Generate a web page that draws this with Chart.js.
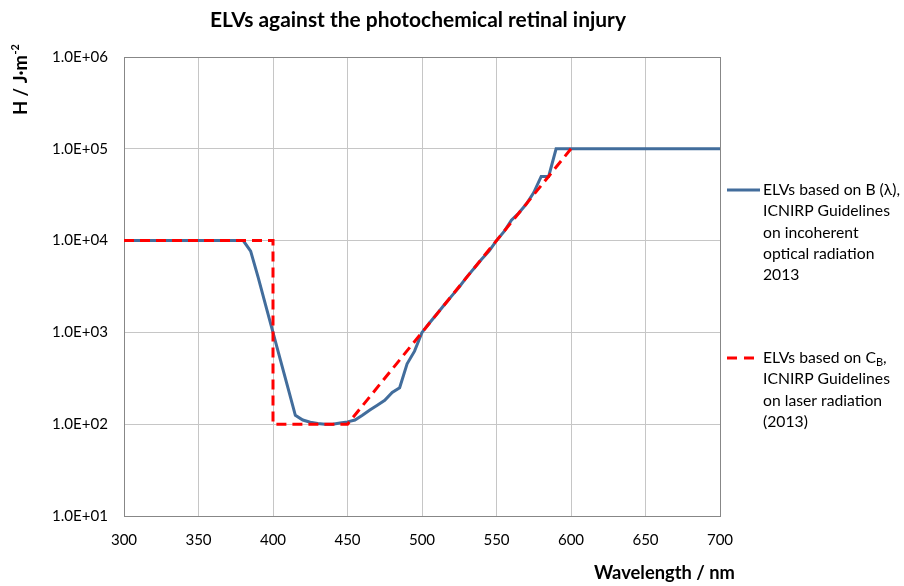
<!DOCTYPE html>
<html>
<head>
<meta charset="utf-8">
<script src="https://cdn.jsdelivr.net/npm/chart.js@4"></script>
<style>
html,body{margin:0;padding:0;background:#fff;}
#c{display:block;}
</style>
</head>
<body>
<canvas id="c" width="904" height="586"></canvas>
<script>
// ---- Data ----
const titleText = "ELVs against the photochemical retinal injury";
const xAxisTitle = "Wavelength / nm";
const yAxisTitle = "H / J\u00B7m";
const yAxisTitleSup = "-2";
const xTicks = [300, 350, 400, 450, 500, 550, 600, 650, 700];
const yTicks = [10, 100, 1000, 10000, 100000, 1000000];

const wavelengthB = [300, 380, 385, 390, 395, 400, 405, 410, 415, 420, 425, 430, 435, 440, 445, 450, 455, 460, 465, 470, 475, 480, 485, 490, 495, 500, 505, 510, 515, 520, 525, 530, 535, 540, 545, 550, 555, 560, 565, 570, 575, 580, 585, 590, 700];
const elvB = [10000, 10000, 7692, 4000, 2000, 1000, 500, 250, 125, 111, 105, 102, 100, 100, 103, 106, 111, 125, 143, 161, 182, 222, 250, 455, 625, 1000, 1266, 1587, 2000, 2500, 3125, 4000, 5000, 6250, 7692, 10000, 12500, 16667, 20000, 25000, 33333, 50000, 50000, 100000, 100000];

const wavelengthC = [300, 400, 400, 450, 500, 550, 600];
const elvC = [10000, 10000, 100, 100, 1000, 10000, 100000];

const legendB = ["ELVs based on B (\u03BB),", "ICNIRP Guidelines", "on incoherent", "optical radiation", "2013"];
const legendC = ["ELVs based on C", "ICNIRP Guidelines", "on laser radiation", "(2013)"];

// ---- helpers ----
const FAM = "Lato, 'Open Sans', sans-serif";
const mctx = document.createElement('canvas').getContext('2d');
function fitSize(text, weight, target) {
  mctx.font = weight + " 100px " + FAM;
  return 100 * target / mctx.measureText(text).width;
}
const tickSize = fitSize("1.0E+06", "normal", 56);
const titleSize = fitSize(titleText, "bold", 416);
const xTitleSize = fitSize(xAxisTitle, "bold", 141);
const legSize = fitSize("ICNIRP Guidelines", "normal", 127);
const yTitleSize = fitSize(yAxisTitle, "bold", 60);

function fmtExp(v) {
  const e = Math.round(Math.log10(v));
  return "1.0E+" + (e < 10 ? "0" : "") + e;
}

const BLUE = '#426d9c';
const RED = '#ff0000';

const decor = {
  id: 'decor',
  beforeDatasetsDraw(chart) {
    const {ctx, chartArea: a} = chart;
    ctx.save();
    ctx.strokeStyle = '#878787';
    ctx.lineWidth = 1;
    ctx.strokeRect(Math.round(a.left) + 0.5, Math.round(a.top) + 0.5, Math.round(a.right - a.left), Math.round(a.bottom - a.top));
    ctx.restore();
  },
  afterDraw(chart) {
    const {ctx, chartArea: a} = chart;
    ctx.save();
    ctx.fillStyle = '#000';
    // title
    ctx.font = "bold " + titleSize + "px " + FAM;
    ctx.textAlign = 'center';
    ctx.textBaseline = 'alphabetic';
    ctx.fillText(titleText, 418, 27);
    // x axis title
    ctx.font = "bold " + xTitleSize + "px " + FAM;
    ctx.textAlign = 'left';
    ctx.fillText(xAxisTitle, 594, 579);
    // y axis title (rotated)
    ctx.save();
    ctx.translate(27, 115);
    ctx.rotate(-Math.PI / 2);
    ctx.font = "bold " + yTitleSize + "px " + FAM;
    ctx.textAlign = 'left';
    ctx.fillText(yAxisTitle, 0, 0);
    const w = ctx.measureText(yAxisTitle).width;
    ctx.font = "bold " + (yTitleSize * 0.6) + "px " + FAM;
    ctx.fillText(yAxisTitleSup, w + 0.5, -yTitleSize * 0.42);
    ctx.restore();

    // legend
    ctx.font = legSize + "px " + FAM;
    ctx.textBaseline = 'middle';
    ctx.textAlign = 'left';
    const lh = 21.3;
    const tx = 763;
    let y0 = 190;
    ctx.strokeStyle = BLUE; ctx.lineWidth = 3; ctx.setLineDash([]);
    ctx.beginPath(); ctx.moveTo(727, y0); ctx.lineTo(760, y0); ctx.stroke();
    legendB.forEach((t, i) => ctx.fillText(t, tx, y0 + i * lh));
    let y1 = 358;
    ctx.strokeStyle = RED; ctx.lineWidth = 3; ctx.setLineDash([10, 7]);
    ctx.beginPath(); ctx.moveTo(727, y1); ctx.lineTo(760, y1); ctx.stroke();
    ctx.setLineDash([]);
    legendC.forEach((t, i) => {
      ctx.font = legSize + "px " + FAM;
      ctx.fillText(t, tx, y1 + i * lh);
      if (i === 0) {
        const w0 = ctx.measureText(t).width;
        ctx.font = (legSize * 0.7) + "px " + FAM;
        ctx.fillText("B", tx + w0, y1 + 4);
        const w1 = ctx.measureText("B").width;
        ctx.font = legSize + "px " + FAM;
        ctx.fillText(",", tx + w0 + w1, y1);
      }
    });
    ctx.restore();
  }
};

new Chart(document.getElementById('c'), {
  type: 'line',
  data: {
    datasets: [
      {
        label: 'C_B',
        data: wavelengthC.map((x, i) => ({x: x, y: elvC[i]})),
        borderColor: RED,
        borderWidth: 3,
        borderDash: [10, 6],
        pointRadius: 0,
        fill: false,
        tension: 0,
        order: 0
      },
      {
        label: 'B',
        data: wavelengthB.map((x, i) => ({x: x, y: elvB[i]})),
        borderColor: BLUE,
        borderWidth: 3,
        pointRadius: 0,
        fill: false,
        tension: 0,
        order: 1
      }
    ]
  },
  options: {
    responsive: false,
    animation: false,
    devicePixelRatio: 1,
    layout: {padding: {top: 57, right: 184, left: 0, bottom: 0}},
    plugins: {legend: {display: false}, tooltip: {enabled: false}, title: {display: false}},
    scales: {
      x: {
        type: 'linear',
        min: 300, max: 700,
        afterBuildTicks(scale) { scale.ticks = xTicks.map(v => ({value: v})); },
        afterFit(scale) { scale.height = 70; },
        grid: {color: '#c6c6c6', lineWidth: 1, drawTicks: false},
        border: {display: false},
        ticks: {color: '#000', padding: 15, font: {family: FAM, size: tickSize}, maxRotation: 0}
      },
      y: {
        type: 'logarithmic',
        min: 10, max: 1000000,
        afterBuildTicks(scale) { scale.ticks = yTicks.map(v => ({value: v, major: true})); },
        afterFit(scale) { scale.width = 124; },
        grid: {color: '#c6c6c6', lineWidth: 1, drawTicks: false},
        border: {display: false},
        ticks: {color: '#000', padding: 16, font: {family: FAM, size: tickSize}, callback: v => fmtExp(v)}
      }
    }
  },
  plugins: [decor]
});
</script>
</body>
</html>
